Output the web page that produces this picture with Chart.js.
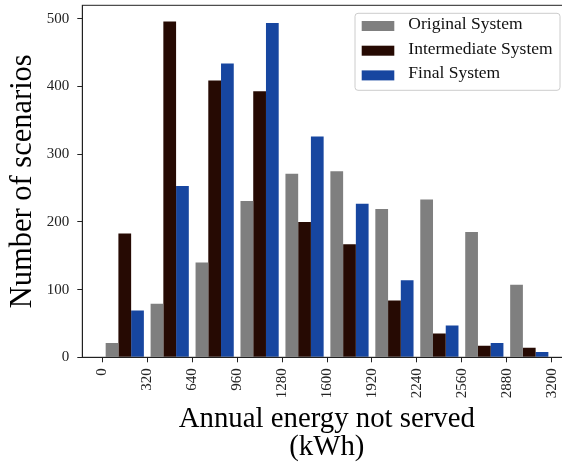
<!DOCTYPE html>
<html>
<head>
<meta charset="utf-8">
<script src="https://cdn.jsdelivr.net/npm/chart.js@4.4.0/dist/chart.umd.min.js"></script>
<style>
  html, body { margin: 0; padding: 0; background: #fff; overflow: hidden; }
  #wrap { width: 562px; height: 464px; overflow: hidden; }
</style>
</head>
<body>
<div id="wrap"><canvas id="histChart" width="580" height="464"></canvas></div>
<script>
// bin edges double as the x tick labels
var binEdges = [0, 320, 640, 960, 1280, 1600, 1920, 2240, 2560, 2880, 3200];
var originalSystem = [21, 79, 140, 231, 271, 275, 219, 233, 185, 107];
var intermediateSystem = [183, 496, 409, 393, 200, 167, 84, 35, 17, 14];
var finalSystem = [69, 253, 434, 494, 326, 227, 114, 47, 21, 8];
var yTicks = [0, 100, 200, 300, 400, 500];

var FONT = '"Liberation Serif", "Times New Roman", serif';

var binCenters = [];
for (var i = 0; i < binEdges.length - 1; i++) {
    binCenters.push((binEdges[i] + binEdges[i + 1]) / 2);
}

function toPoints(values) {
    return values.map(function (v, i) { return { x: binCenters[i], y: v }; });
}

// top/right spines
var frame = {
    id: 'frame',
    afterDraw: function (chart) {
        var ctx = chart.ctx, a = chart.chartArea;
        ctx.save();
        ctx.strokeStyle = '#222';
        ctx.lineWidth = 1;
        ctx.strokeRect(a.left, a.top, a.right - a.left, a.bottom - a.top);
        ctx.restore();
    }
};

// matplotlib style legend box in the upper right corner
var boxLegend = {
    id: 'boxLegend',
    afterDraw: function (chart) {
        var ctx = chart.ctx, a = chart.chartArea;
        var w = 205, h = 77;
        var x = a.right - 11.4 - w, y = a.top + 8;
        ctx.save();
        ctx.fillStyle = 'rgba(255,255,255,0.85)';
        ctx.strokeStyle = '#cccccc';
        ctx.lineWidth = 1;
        ctx.beginPath();
        ctx.roundRect(x, y, w, h, 3);
        ctx.fill();
        ctx.stroke();
        ctx.font = '17.5px ' + FONT;
        ctx.textBaseline = 'middle';
        chart.data.datasets.forEach(function (ds, i) {
            var cy = y + 12.7 + i * 24.7;
            ctx.fillStyle = ds.backgroundColor;
            ctx.fillRect(x + 6.7, cy - 5, 32.6, 10);
            ctx.fillStyle = '#111';
            ctx.fillText(ds.label, x + 53.3, cy - 1.5);
        });
        ctx.restore();
    }
};

new Chart(document.getElementById('histChart').getContext('2d'), {
    type: 'bar',
    data: {
        datasets: [{
            label: 'Original System',
            data: toPoints(originalSystem),
            backgroundColor: '#7f7f7f'
        }, {
            label: 'Intermediate System',
            data: toPoints(intermediateSystem),
            backgroundColor: '#260a03'
        }, {
            label: 'Final System',
            data: toPoints(finalSystem),
            backgroundColor: '#1746a0'
        }]
    },
    options: {
        responsive: false,
        animation: false,
        layout: { padding: { top: 5.3, right: 8.6, left: 0, bottom: 0 } },
        datasets: { bar: { categoryPercentage: 0.85, barPercentage: 1.0 } },
        plugins: {
            legend: { display: false },
            tooltip: { enabled: false }
        },
        scales: {
            x: {
                type: 'linear',
                min: -142.4,
                max: 3340,
                offset: false,
                grid: { offset: false, drawOnChartArea: false, drawTicks: true, tickLength: 5, color: '#222' },
                border: { display: true, color: '#222', width: 1 },
                afterBuildTicks: function (scale) {
                    scale.ticks = binEdges.map(function (v) { return { value: v }; });
                },
                afterFit: function (scale) {
                    scale.height = 106.7;
                    scale.paddingLeft = 0;
                    scale.paddingRight = 0;
                },
                ticks: {
                    autoSkip: false,
                    minRotation: 90,
                    maxRotation: 90,
                    padding: 6,
                    color: '#222',
                    font: { family: FONT, size: 15 },
                    callback: function (v) { return String(v); }
                },
                title: {
                    display: true,
                    text: ['Annual energy not served', '(kWh)'],
                    color: '#000',
                    font: { family: FONT, size: 28.8, lineHeight: '28.7px' },
                    padding: { top: 0, bottom: 2 }
                }
            },
            y: {
                min: 0,
                max: 520,
                grid: { drawOnChartArea: false, drawTicks: true, tickLength: 5, color: '#222' },
                border: { display: true, color: '#222', width: 1 },
                afterBuildTicks: function (scale) {
                    scale.ticks = yTicks.map(function (v) { return { value: v }; });
                },
                afterFit: function (scale) {
                    scale.width = 82.3;
                    scale.paddingTop = 0;
                    scale.paddingBottom = 0;
                },
                ticks: {
                    padding: 8,
                    color: '#222',
                    font: { family: FONT, size: 15 }
                },
                title: {
                    display: true,
                    text: 'Number of scenarios',
                    color: '#000',
                    font: { family: FONT, size: 30.5, lineHeight: '31px' },
                    padding: { top: 7.5, bottom: 0 }
                }
            }
        }
    },
    plugins: [frame, boxLegend]
});
</script>
</body>
</html>
